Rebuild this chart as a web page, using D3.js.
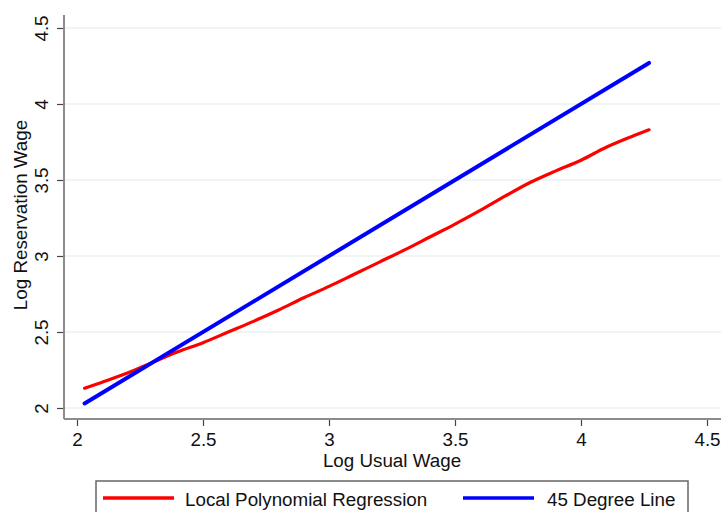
<!DOCTYPE html>
<html>
<head>
<meta charset="utf-8">
<script src="https://cdn.jsdelivr.net/npm/d3@7/dist/d3.min.js"></script>
<style>
  html, body { margin: 0; padding: 0; background: #fff; }
  svg { display: block; font-family: "Liberation Sans", Arial, sans-serif; }
</style>
</head>
<body>
<svg id="chart" width="721" height="512"></svg>
<script>
// Log usual wage grid and the fitted local polynomial values
const usualWage = [2.03, 2.1, 2.2, 2.3, 2.4, 2.5, 2.6, 2.7, 2.8, 2.9, 3.0, 3.1, 3.2, 3.3, 3.4, 3.5, 3.6, 3.7, 3.8, 3.9, 4.0, 4.1, 4.2, 4.27];
const reservationFit = [2.13, 2.17, 2.23, 2.30, 2.37, 2.43, 2.50, 2.57, 2.645, 2.725, 2.80, 2.88, 2.96, 3.04, 3.125, 3.21, 3.30, 3.395, 3.485, 3.56, 3.63, 3.715, 3.785, 3.83];
// 45 degree reference line endpoints
const diagonal = [2.03, 4.27];
const xTicks = [2, 2.5, 3, 3.5, 4, 4.5];
const yTicks = [2, 2.5, 3, 3.5, 4, 4.5];
const seriesNames = ["Local Polynomial Regression", "45 Degree Line"];
const seriesColors = ["#ff0000", "#0000ff"];

const svg = d3.select("#chart");
const x = d3.scaleLinear().domain([2, 4.5]).range([77, 707]);
const y = d3.scaleLinear().domain([2, 4.5]).range([408, 28]);
const fmt = d => d3.format("")(d);
const axisColor = "#8c8c8c";
const fontSize = 18.8;

// horizontal gridlines
svg.append("g").selectAll("line").data(yTicks).join("line")
  .attr("x1", 64).attr("x2", 721)
  .attr("y1", d => y(d)).attr("y2", d => y(d))
  .attr("stroke", "#eaf0f0").attr("stroke-width", 1.5);

// x axis
const xAxis = svg.append("g").attr("transform", "translate(0,419)")
  .call(d3.axisBottom(x).tickValues(xTicks).tickFormat(fmt).tickSize(7).tickSizeOuter(0));
xAxis.select(".domain").remove();
xAxis.append("line").attr("x1", 64).attr("x2", 721).attr("stroke", axisColor).attr("stroke-width", 2);
xAxis.selectAll(".tick line").attr("stroke", "#444").attr("stroke-width", 1.2);
xAxis.selectAll(".tick text").attr("fill", "#111").attr("font-size", fontSize)
  .attr("dy", null).attr("y", 27);

// y axis
const yAxis = svg.append("g").attr("transform", "translate(64,0)")
  .call(d3.axisLeft(y).tickValues(yTicks).tickFormat(fmt).tickSize(7).tickSizeOuter(0));
yAxis.select(".domain").remove();
yAxis.append("line").attr("y1", 15).attr("y2", 419).attr("stroke", axisColor).attr("stroke-width", 2);
yAxis.selectAll(".tick line").attr("stroke", "#444").attr("stroke-width", 1.2);
yAxis.selectAll(".tick text").attr("fill", "#111").attr("font-size", fontSize)
  .attr("x", null).attr("dy", null)
  .attr("text-anchor", "middle")
  .attr("transform", "translate(-16,0) rotate(-90)");

// axis titles
svg.append("text").attr("x", 392).attr("y", 467).attr("text-anchor", "middle")
  .attr("font-size", fontSize).attr("fill", "#111").text("Log Usual Wage");
svg.append("text").attr("transform", "translate(27,215) rotate(-90)").attr("text-anchor", "middle")
  .attr("font-size", fontSize).attr("fill", "#111").text("Log Reservation Wage");

// series
const fitPoints = usualWage.map((d, i) => [d, reservationFit[i]]);
svg.append("path").datum(fitPoints)
  .attr("d", d3.line().x(d => x(d[0])).y(d => y(d[1])).curve(d3.curveMonotoneX))
  .attr("fill", "none").attr("stroke", seriesColors[0]).attr("stroke-width", 3.2)
  .attr("stroke-linecap", "round");
svg.append("path").datum(diagonal.map(d => [d, d]))
  .attr("d", d3.line().x(d => x(d[0])).y(d => y(d[1])))
  .attr("fill", "none").attr("stroke", seriesColors[1]).attr("stroke-width", 4)
  .attr("stroke-linecap", "round");

// legend
const legend = svg.append("g");
legend.append("rect").attr("x", 96).attr("y", 481).attr("width", 592).attr("height", 40)
  .attr("fill", "#fff").attr("stroke", "#666").attr("stroke-width", 1.5);
const items = [{ x: 103, tx: 185 }, { x: 463, tx: 547 }];
items.forEach((it, i) => {
  legend.append("line").attr("x1", it.x).attr("x2", it.x + 71).attr("y1", 498).attr("y2", 498)
    .attr("stroke", seriesColors[i]).attr("stroke-width", 3.5);
  legend.append("text").attr("x", it.tx).attr("y", 506).attr("font-size", fontSize)
    .attr("fill", "#111").text(seriesNames[i]);
});
</script>
</body>
</html>
